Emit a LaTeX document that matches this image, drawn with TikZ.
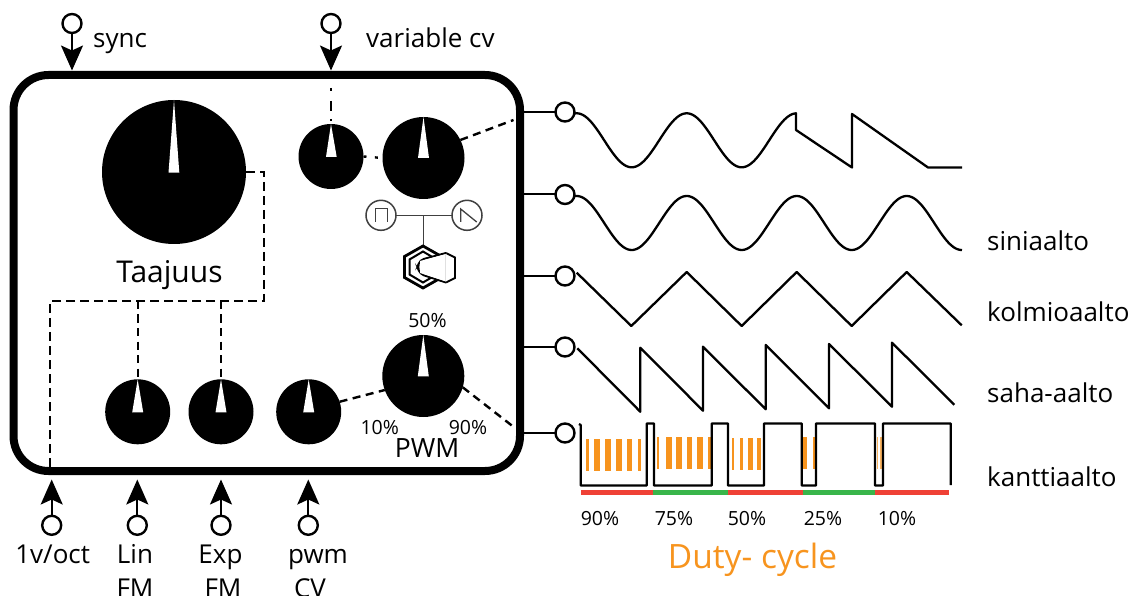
\documentclass[tikz,border=0pt]{standalone}
\usepackage{fontspec}
\setmainfont{Open Sans}
\usetikzlibrary{arrows.meta}
\definecolor{dutyor}{HTML}{F7941E}
\definecolor{dutyred}{HTML}{EF4136}
\definecolor{dutygr}{HTML}{39B54A}
\definecolor{iconk}{HTML}{404040}
\tikzset{
  x=1pt,y=-1pt,
  panel/.style={draw=black,line width=8pt,rounded corners=35pt,rectangle,outer sep=0pt,inner sep=0pt,minimum width=506.5pt,minimum height=396pt},
  jack/.style={circle,draw=black,fill=white,line width=2.4pt,minimum size=19pt,inner sep=0pt,outer sep=0pt},
  knobbig/.style={circle,fill=black,minimum size=144pt,inner sep=0pt,outer sep=0pt},
  knobmid/.style={circle,fill=black,minimum size=82pt,inner sep=0pt,outer sep=0pt},
  knobsmall/.style={circle,fill=black,minimum size=65pt,inner sep=0pt,outer sep=0pt},
  needle/.style={fill=white},
  wire/.style={draw=black,line width=2.4pt,dash pattern=on 8pt off 5.5pt},
  stub/.style={draw=black,line width=2pt},
  wave/.style={draw=black,line width=2.3pt,line join=round},
  inarrow/.style={draw=black,line width=2pt,-{Stealth[length=25pt,width=22pt,inset=5pt]}},
  lab/.style={anchor=base,inner sep=0pt,font=\fontsize{26}{26}\selectfont},
  labl/.style={anchor=base west,inner sep=0pt,font=\fontsize{26}{26}\selectfont},
  pct/.style={anchor=base,inner sep=0pt,font=\fontsize{19.5}{19.5}\selectfont},
  icon/.style={draw=iconk,line width=1.5pt},
  iconc/.style={circle,draw=iconk,fill=white,line width=1.5pt,minimum size=30pt,inner sep=0pt,outer sep=0pt},
  duty/.style={fill=dutyor},
}
\begin{document}
\begin{tikzpicture}
\useasboundingbox (0,0) rectangle (1144,596);
% panel
\node[panel] (box) at (266.75,273) {};
% knobs
\node[knobbig] (kfreq) at (174,172) {};
\node[knobsmall] (kvar) at (331,156.5) {};
\node[knobmid] (kwave) at (423.5,158) {};
\node[knobmid] (kpwm) at (423.3,376) {};
\node[knobsmall] (klin) at (137.7,411.8) {};
\node[knobsmall] (kexp) at (221,411.8) {};
\node[knobsmall] (kcv) at (308.7,411.8) {};
\fill[needle] (174,100) -- (179.3,172.7) -- (168.5,172.7) -- cycle;
\fill[needle] (331,124) -- (336.7,157) -- (326,157) -- cycle;
\fill[needle] (423.5,117) -- (429,158) -- (418,158) -- cycle;
\fill[needle] (423.3,335) -- (428.8,376.3) -- (417.8,376.3) -- cycle;
\fill[needle] (137.7,379.5) -- (143.2,412.3) -- (132.2,412.3) -- cycle;
\fill[needle] (221,379.5) -- (226.5,412.3) -- (215.5,412.3) -- cycle;
\fill[needle] (308.7,379.5) -- (314.2,412.3) -- (303.2,412.3) -- cycle;
% internal wires
\coordinate (bus) at (264,301);
\coordinate (busl) at (50,301);
\draw[wire,dash pattern=on 9pt off 5pt] (kfreq.east) -- (bus |- kfreq.east) -- (bus) -- (busl) -- (busl |- box.south);
\draw[wire] (klin.north |- bus) -- (klin.north);
\draw[wire] (kexp.north |- bus) -- (kexp.north);
\coordinate (varin) at (331,88);
\draw[wire,dash pattern=on 3pt off 10pt on 10pt off 8pt on 2pt off 10pt] (varin) -- (kvar.north);
\draw[wire,dash pattern=on 3pt off 8.4pt] (kvar.east) -- (kwave.west);
\coordinate (wo) at (513.5,120);
\coordinate (po) at (515,428);
\draw[wire] (kwave.26) -- (wo);
\draw[wire] (kcv.18) -- (kpwm.200);
\draw[wire] (kpwm.-16) -- (po);
% input jacks
\node[jack] (jsync) at (72,23.5) {};
\node[jack] (jvar) at (331,23.5) {};
\node[jack] (j1v) at (51.7,525.3) {};
\node[jack] (jlin) at (137.3,525.3) {};
\node[jack] (jexp) at (221,525.3) {};
\node[jack] (jpwm) at (308.3,525.3) {};
\coordinate (async) at (72,70.5);
\coordinate (avar) at (331,70.5);
\coordinate (a1v) at (51.7,479.5);
\coordinate (alin) at (137.3,479.5);
\coordinate (aexp) at (221,479.5);
\coordinate (apwm) at (308.3,479.5);
\draw[inarrow] (jsync) -- (async);
\draw[inarrow] (jvar) -- (avar);
\draw[inarrow] (j1v) -- (a1v);
\draw[inarrow] (jlin) -- (alin);
\draw[inarrow] (jexp) -- (aexp);
\draw[inarrow] (jpwm) -- (apwm);
% output jacks
\node[jack] (o1) at (565,112) {};
\node[jack] (o2) at (565,194.5) {};
\node[jack] (o3) at (565,276) {};
\node[jack] (o4) at (565,347) {};
\node[jack] (o5) at (565,433) {};
\draw[stub] (box.east |- o1) -- (o1);
\draw[stub] (box.east |- o2) -- (o2);
\draw[stub] (box.east |- o3) -- (o3);
\draw[stub] (box.east |- o4) -- (o4);
\draw[stub] (box.east |- o5) -- (o5);
% waves
\draw[wave] plot[domain=575:796,samples=150] (\x,{140.3-27*cos((\x-576.7)/110*360)}) -- (796,130) -- (852,167.5) -- (852,114) -- (928,167.5) -- (962,167.5);
\draw[wave] plot[domain=575:962,samples=220] (\x,{223-27*cos((\x-576.7)/110*360)});
\draw[wave] (576.7,272.7) -- (631.3,326) -- (686.7,272) -- (741.7,326) -- (796.7,272) -- (851.7,326) -- (906.7,272) -- (961.7,325.3);
\draw[wave] (577.3,348.3) -- (640.3,411.7) -- (640.3,347.7) -- (703,410.7) -- (703,346.7) -- (765.7,409.3) -- (765.7,345) -- (829,408.3) -- (829,344) -- (892,406.7) -- (892,342.7) -- (954.3,404.7);
% duty bars
\foreach \a/\b in {586/589.3,594.3/600,605/611,616/621.7,626.7/632.3,637.7/640.7}{\fill[duty] (\a,439.3) rectangle (\b,471);}
\foreach \a/\b in {656.7/659.3,666/671.7,676/681.7,686.7/692.3,697.3/703,707.7/710.7}{\fill[duty] (\a,437.3) rectangle (\b,469.3);}
\foreach \a/\b in {731.7/734,740/743.3,748.3/753.3,757.3/760.7}{\fill[duty] (\a,438.3) rectangle (\b,470);}
\foreach \a/\b in {803.3/807,813.3/815.7}{\fill[duty] (\a,437.3) rectangle (\b,469.3);}
\foreach \a/\b in {876.7/878.3,880/882.3}{\fill[duty,opacity=.7] (\a,437.3) rectangle (\b,469.3);}
\draw[wave] (579,424) -- (580.7,425) -- (580.7,485.5) -- (646.7,485.5) -- (646.7,423.5) -- (654,423.5) -- (654,485.5) -- (711.7,485.5) -- (711.7,423.5) -- (728,423.5) -- (728,485.5) -- (764,485.5) -- (764,423.5) -- (801.7,423.5) -- (801.7,485.5) -- (816,485.5) -- (816,423.5) -- (875,423.5) -- (875,485.5) -- (883,485.5) -- (883,423.5) -- (950.7,423.5) -- (950.7,485);
\fill[dutyred] (580.7,490) rectangle (653,495.3);
\fill[dutygr] (653,490) rectangle (728,495.3);
\fill[dutyred] (728,490) rectangle (802.7,495.3);
\fill[dutygr] (802.7,490) rectangle (875,495.3);
\fill[dutyred] (875,490) rectangle (949,495.3);
% waveform switch
\node[iconc] (swl) at (381,215.3) {};
\node[iconc] (swr) at (467,215.3) {};
\coordinate (swm) at (423.3,215.3);
\coordinate (swb) at (423.3,245);
\draw[icon] (swl) -- (swr);
\draw[icon] (swm) -- (swb);
\draw[icon,line width=1.3pt] (375.7,222) -- (375.7,208.5) -- (387.5,208.5) -- (387.5,222);
\draw[icon,line width=1.3pt] (460.7,222) -- (460.7,209) -- (476.7,222);
\draw[black,line width=2.8pt,line join=miter] (423,246) -- (441.5,256.5) -- (441.5,277.5) -- (423,288) -- (404.5,277.5) -- (404.5,256.5) -- cycle;
\draw[black,line width=2pt,line join=miter] (423,251.5) -- (436.5,259.5) -- (436.5,274.5) -- (423,282.5) -- (409.5,274.5) -- (409.5,259.5) -- cycle;
\draw[black,line width=1.8pt] (446,253) -- (455,257.5) -- (455,278) -- (446,282.5);
\draw[black,line width=2pt,fill=white,rounded corners=4pt] (446,253) -- (420,260) -- (417.5,267) -- (420,274) -- (446,282.5);
\fill[white] (420,261) -- (446,254) -- (446,281.5) -- (420,273) -- cycle;
\draw[black!12,line width=.8pt] (445.5,254) -- (445.5,281);
% labels
\node[labl] (tsync) at (93,48) {sync};
\node[labl] (tvar) at (366,48) {variable cv};
\node[lab,font=\fontsize{30}{30}\selectfont] (ttaa) at (169.5,283) {Taajuus};
\node[lab,font=\fontsize{26.5}{26.5}\selectfont] (tpwm) at (427,457.7) {PWM};
\node[pct] (t50) at (427.5,327.3) {50\%};
\node[pct] (t10) at (379.7,434.3) {10\%};
\node[pct] (t90) at (468,434.3) {90\%};
\node[labl] (ts) at (987,251) {siniaalto};
\node[labl] (tk) at (987,322) {kolmioaalto};
\node[labl] (tsa) at (987,402) {saha-aalto};
\node[labl] (tka) at (987,486) {kanttiaalto};
\node[pct] (p90) at (600,525) {90\%};
\node[pct] (p75) at (674,525) {75\%};
\node[pct] (p50) at (747,525) {50\%};
\node[pct] (p25) at (823,525) {25\%};
\node[pct] (p10) at (897,525) {10\%};
\node[lab,text=dutyor,font=\fontsize{33.5}{33.5}\selectfont] (tduty) at (752.5,568) {Duty- cycle};
\node[lab] (t1v) at (52.7,563) {1v/oct};
\node[lab] (tlin) at (135,563) {Lin};
\node[lab] (tlin2) at (135,597) {FM};
\node[lab] (texp) at (220.5,563) {Exp};
\node[lab] (texp2) at (223,597) {FM};
\node[lab] (tpw) at (318,563) {pwm};
\node[lab] (tpw2) at (310,597) {CV};
\end{tikzpicture}
\end{document}
